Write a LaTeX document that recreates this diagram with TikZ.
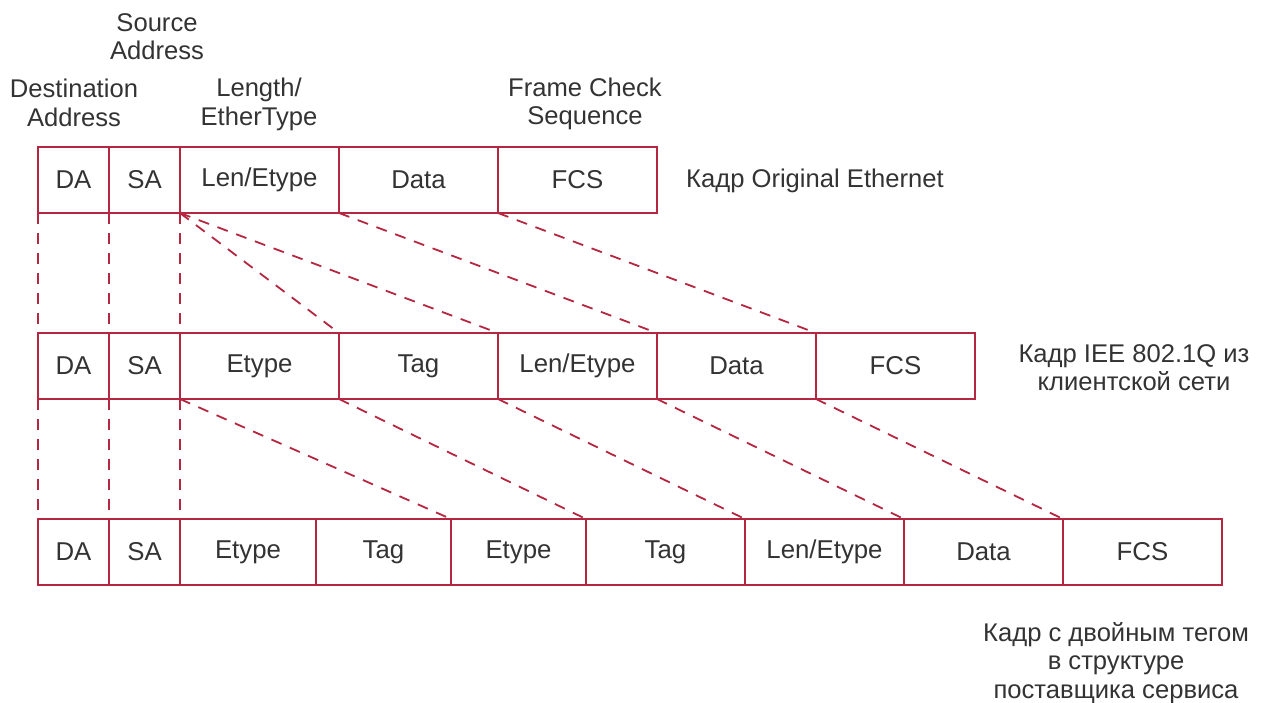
\documentclass[tikz,border=0pt]{standalone}
\usepackage{fontspec}
\setmainfont{Liberation Sans}
\definecolor{frm}{RGB}{181,38,64}
\definecolor{txt}{RGB}{51,51,51}
\begin{document}
\begin{tikzpicture}[x=1pt,y=-1pt,
  fld/.style={draw=frm, line width=2pt, rectangle, anchor=north west, inner sep=0pt, outer sep=0pt,
    minimum height=66pt, text=txt, font=\fontsize{25.8}{28.5}\selectfont},
  dl/.style={draw=frm, line width=1.8pt, dash pattern=on 11pt off 9pt},
  lbl/.style={text=txt, font=\fontsize{25.6}{28.5}\selectfont, align=center, inner sep=0pt}]
\useasboundingbox (0,0) rectangle (1261,702);
% Row 1
\node[fld, minimum width=71pt]  (a1) at (38,147)  {DA};
\node[fld, minimum width=71pt]  (a2) at (109,147) {SA};
\node[fld, minimum width=159pt] (a3) at (180,147) {Len/Etype};
\node[fld, minimum width=159pt] (a4) at (339,147) {Data};
\node[fld, minimum width=159pt] (a5) at (498,147) {FCS};
% Row 2
\node[fld, minimum width=71pt]  (b1) at (38,333)  {DA};
\node[fld, minimum width=71pt]  (b2) at (109,333) {SA};
\node[fld, minimum width=159pt] (b3) at (180,333) {Etype};
\node[fld, minimum width=159pt] (b4) at (339,333) {Tag};
\node[fld, minimum width=159pt] (b5) at (498,333) {Len/Etype};
\node[fld, minimum width=159pt] (b6) at (657,333) {Data};
\node[fld, minimum width=159pt] (b7) at (816,333) {FCS};
% Row 3
\node[fld, minimum width=71pt]  (c1) at (38,519)  {DA};
\node[fld, minimum width=71pt]  (c2) at (109,519) {SA};
\node[fld, minimum width=136pt] (c3) at (180,519) {Etype};
\node[fld, minimum width=135pt] (c4) at (316,519) {Tag};
\node[fld, minimum width=135pt] (c5) at (451,519) {Etype};
\node[fld, minimum width=159pt] (c6) at (586,519) {Tag};
\node[fld, minimum width=159pt] (c7) at (745,519) {Len/Etype};
\node[fld, minimum width=159pt] (c8) at (904,519) {Data};
\node[fld, minimum width=159pt] (c9) at (1063,519) {FCS};
% Labels
\node[lbl] (ls) at (157,36.5) {Source\\Address};
\node[lbl] (ld) at (74,103) {Destination\\Address};
\node[lbl] (ll) at (259,104.5) {Length/\\EtherType};
\node[lbl] (lf) at (585,104) {Frame Check\\Sequence};
\node[lbl, anchor=west] (r1) at (686,180.5) {Кадр Original Ethernet};
\node[lbl] (r2) at (1134,367.5) {Кадр IEE 802.1Q из\\клиентской сети};
\node[lbl] (r3) at (1116,663) {Кадр с двойным тегом\\в структуре\\поставщика сервиса};
% Connectors row 1 -> row 2
\draw[dl] (a1.south west) -- (b1.north west);
\draw[dl] (a2.south west) -- (b2.north west);
\draw[dl] (a3.south west) -- (b3.north west);
\draw[dl] (a3.south west) -- (b4.north west);
\draw[dl] (a3.south west) -- (b5.north west);
\draw[dl] (a4.south west) -- (b6.north west);
\draw[dl] (a5.south west) -- (b7.north west);
% Connectors row 2 -> row 3
\draw[dl] (b1.south west) -- (c1.north west);
\draw[dl] (b2.south west) -- (c2.north west);
\draw[dl] (b3.south west) -- (c3.north west);
\draw[dl] (b3.south west) -- (c5.north west);
\draw[dl] (b4.south west) -- (c6.north west);
\draw[dl] (b5.south west) -- (c7.north west);
\draw[dl] (b6.south west) -- (c8.north west);
\draw[dl] (b7.south west) -- (c9.north west);
\end{tikzpicture}
\end{document}
